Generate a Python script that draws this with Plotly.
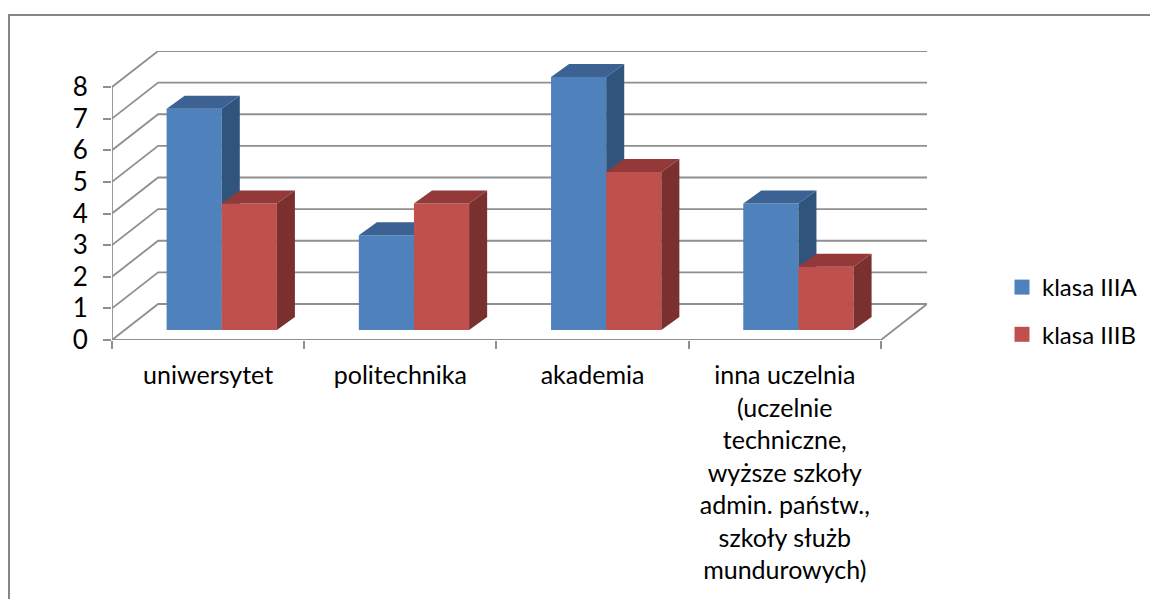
import plotly.graph_objects as go

# Chart data
categories = [
    "uniwersytet",
    "politechnika",
    "akademia",
    ["inna uczelnia", "(uczelnie", "techniczne,", "wyższe szkoły", "admin. państw.,", "szkoły służb", "mundurowych)"],
]
klasa_a = [7, 3, 8, 4]
klasa_b = [4, 4, 5, 2]
value_ticks = [0, 1, 2, 3, 4, 5, 6, 7, 8]
series_names = ["klasa IIIA", "klasa IIIB"]

W, H = 1150, 599
LEFT, RIGHT, TOP, BOTTOM = 112, 927, 51, 340   # plot box in pixels
CAT_PX = 191.75    # one category
VAL_PX = 31.625    # one value unit

# Fake 3D geometry, expressed in axis units
wall_dx = 46 / CAT_PX
wall_dy = 36 / VAL_PX
bar_w = 55 / CAT_PX
bar_shift = 13.6 / CAT_PX
bar_lift = 10 / VAL_PX
side_dx = 18 / CAT_PX
side_dy = 13 / VAL_PX

x_range = [-0.5, 3.5 + wall_dx]
y_range = [0, 8 + wall_dy]

GRID = "#8F8F8F"
TEXT = "#000000"
FONT = "Lato"
colors = {
    "a": dict(front="#4F81BD", side="#31547C", top="#3B6293"),
    "b": dict(front="#C0504D", side="#7A302E", top="#93393A"),
}


def wall_lines():
    xs, ys = [], []
    for v in value_ticks:
        xs += [x_range[0], x_range[0] + wall_dx, x_range[1], None]
        ys += [v, v + wall_dy, v + wall_dy, None]
    # floor edges and the front axes
    xs += [3.5, x_range[1], None, x_range[0], 3.5, None, x_range[0], x_range[0]]
    ys += [0, wall_dy, None, 0, 0, None, 0, 8]
    return xs, ys


def add_series(fig, values, name, pal, offset, xa, ya):
    centers = [i + bar_shift + offset for i in range(len(values))]
    fig.add_trace(go.Bar(
        x=centers, y=values, base=bar_lift, width=bar_w, name=name,
        marker=dict(color=pal["front"], line=dict(width=0)),
        showlegend=False, xaxis=xa, yaxis=ya,
    ))
    side_x, side_y, top_x, top_y = [], [], [], []
    for c, v in zip(centers, values):
        l, r = c - bar_w / 2, c + bar_w / 2
        t = v + bar_lift
        side_x += [r, r + side_dx, r + side_dx, r, r, None]
        side_y += [bar_lift, bar_lift + side_dy, t + side_dy, t, bar_lift, None]
        top_x += [l, r, r + side_dx, l + side_dx, l, None]
        top_y += [t, t, t + side_dy, t + side_dy, t, None]
    for px, py, col in [(side_x, side_y, pal["side"]), (top_x, top_y, pal["top"])]:
        fig.add_trace(go.Scatter(
            x=px, y=py, mode="lines", fill="toself", fillcolor=col,
            line=dict(width=0, color=col), hoverinfo="skip", showlegend=False,
            xaxis=xa, yaxis=ya,
        ))


fig = go.Figure()

# Back wall and floor go in the bottom subplot
wx, wy = wall_lines()
fig.add_trace(go.Scatter(
    x=wx, y=wy, mode="lines", line=dict(color=GRID, width=1.8),
    hoverinfo="skip", showlegend=False, cliponaxis=False,
))

# Blue sits behind red, so each series gets its own overlay
add_series(fig, klasa_a, series_names[0], colors["a"], -bar_w / 2, "x2", "y2")
add_series(fig, klasa_b, series_names[1], colors["b"], bar_w / 2, "x3", "y3")

# Legend-only entries, bar swatches are too small
for name, key in zip(series_names, ["a", "b"]):
    fig.add_trace(go.Scatter(
        x=[None], y=[None], mode="markers", name=name, legendgroup=name,
        marker=dict(symbol="square", size=15, color=colors[key]["front"]),
    ))

hidden = dict(range=x_range, visible=False, fixedrange=True)
fig.update_layout(
    width=W, height=H,
    margin=dict(l=LEFT, r=W - RIGHT, t=TOP, b=H - BOTTOM, autoexpand=False),
    paper_bgcolor="white", plot_bgcolor="rgba(0,0,0,0)",
    font=dict(family=FONT, color=TEXT),
    hovermode="closest",
    xaxis=dict(
        range=x_range, showgrid=False, zeroline=False, showline=False, fixedrange=True,
        tickmode="array", tickvals=[0, 1, 2, 3],
        ticktext=["<br>".join(c) if isinstance(c, list) else c for c in categories],
        ticks="", tickangle=0, tickfont=dict(size=25, color=TEXT, family=FONT),
        ticklabelstandoff=18,
        minor=dict(tickmode="array", tickvals=[-0.5, 0.5, 1.5, 2.5, 3.5], ticks="outside",
                   ticklen=8, tickwidth=1.8, tickcolor=GRID, showgrid=False),
    ),
    yaxis=dict(
        range=y_range, showgrid=False, zeroline=False, showline=False, fixedrange=True,
        tickmode="array", tickvals=value_ticks, ticks="outside", ticklen=8,
        tickwidth=1.8, tickcolor=GRID, tickfont=dict(size=26, color=TEXT, family=FONT),
        ticklabelstandoff=10,
    ),
    xaxis2=dict(hidden, overlaying="x"),
    xaxis3=dict(hidden, overlaying="x"),
    yaxis2=dict(range=y_range, visible=False, fixedrange=True, overlaying="y"),
    yaxis3=dict(range=y_range, visible=False, fixedrange=True, overlaying="y"),
    legend=dict(
        x=(1002 - LEFT) / (RIGHT - LEFT), y=(BOTTOM - 265) / (BOTTOM - TOP),
        xanchor="left", yanchor="top", font=dict(size=24, color=TEXT, family=FONT),
        tracegroupgap=13, itemsizing="trace", bgcolor="rgba(0,0,0,0)",
    ),
    # Outer chart frame runs off the picture on the right and at the bottom
    shapes=[dict(
        type="path", xref="paper", yref="paper",
        path="M %.4f,%.4f L %.4f,%.4f L %.4f,%.4f" % (
            (9 - LEFT) / (RIGHT - LEFT), (BOTTOM - H) / (BOTTOM - TOP),
            (9 - LEFT) / (RIGHT - LEFT), (BOTTOM - 15) / (BOTTOM - TOP),
            (W - LEFT) / (RIGHT - LEFT), (BOTTOM - 15) / (BOTTOM - TOP),
        ),
        line=dict(color="#868686", width=2),
    )],
)

fig.write_html("out.html", config={"displayModeBar": False},
               post_script="document.body.style.margin='0';")
